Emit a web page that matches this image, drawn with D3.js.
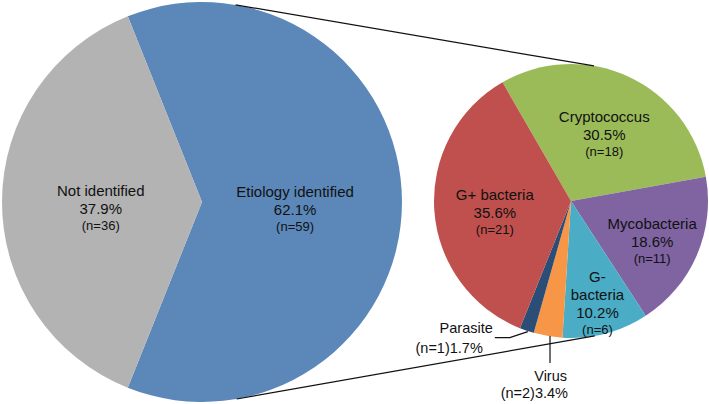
<!DOCTYPE html>
<html lang="en">
<head>
	<meta charset="UTF-8">
	<style>
	body { margin: 0; background: #fff; }
	svg text { font-family: "Liberation Sans", Arial, sans-serif; fill: #111; }
	</style>
	<script src="https://d3js.org/d3.v7.min.js"></script>
	<title>Etiology pie of pie</title>
</head>
<body>
	<div id="chart">
		<script>
			// Main pie: all cases
			const mainLabels = ["Etiology identified", "Not identified"];
			const mainCounts = [59, 36];
			const mainColors = ["#5b88b9", "#b3b3b3"];

			// Secondary pie: identified etiology breakdown
			const subLabels = ["Cryptococcus", "Mycobacteria", "G- bacteria", "Virus", "Parasite", "G+ bacteria"];
			const subCounts = [18, 11, 6, 2, 1, 21];
			const subColors = ["#9bbb59", "#8064a2", "#4bacc6", "#f79646", "#2c4d75", "#c0504d"];

			const width = 709, height = 404;
			const deg = Math.PI / 180;

			const svg = d3.select("#chart")
				.append("svg")
				.attr("width", width)
				.attr("height", height);

			const big = {cx: 202, cy: 202, r: 200};
			const small = {cx: 571, cy: 201, r: 137};

			function pct(v, arr) {
				return (v / d3.sum(arr) * 100).toFixed(1) + "%";
			}

			// ----- big pie -----
			const bigHalf = Math.PI * mainCounts[0] / d3.sum(mainCounts);
			const bigPie = d3.pie().sort(null)
				.startAngle(Math.PI / 2 - bigHalf)
				.endAngle(Math.PI / 2 - bigHalf + 2 * Math.PI);
			const bigArcs = bigPie(mainCounts);
			const bigArc = d3.arc().innerRadius(0).outerRadius(big.r);

			const gBig = svg.append("g").attr("transform", `translate(${big.cx},${big.cy})`);
			gBig.selectAll("path")
				.data(bigArcs)
				.join("path")
				.attr("d", bigArc)
				.attr("fill", (d, i) => mainColors[i]);

			// ----- small pie -----
			const subPie = d3.pie().sort(null)
				.startAngle(-30 * deg)
				.endAngle(330 * deg);
			const subArcs = subPie(subCounts);
			const subArc = d3.arc().innerRadius(0).outerRadius(small.r);

			const gSmall = svg.append("g").attr("transform", `translate(${small.cx},${small.cy})`);
			gSmall.selectAll("path")
				.data(subArcs)
				.join("path")
				.attr("d", subArc)
				.attr("fill", (d, i) => subColors[i]);

			// ----- connector lines (outer tangents of the two circles) -----
			const dx = small.cx - big.cx, dy = small.cy - big.cy;
			const dist = Math.hypot(dx, dy);
			const base = Math.atan2(dy, dx);
			const off = Math.acos((big.r - small.r) / dist);
			[base - off, base + off].forEach(a => {
				svg.append("line")
					.attr("x1", big.cx + big.r * Math.cos(a))
					.attr("y1", big.cy + big.r * Math.sin(a))
					.attr("x2", small.cx + small.r * Math.cos(a))
					.attr("y2", small.cy + small.r * Math.sin(a))
					.attr("stroke", "#111")
					.attr("stroke-width", 1.2);
			});

			// polar helper, angle clockwise from 12 o'clock
			function polar(c, a, rr) {
				return [c.cx + rr * Math.sin(a), c.cy - rr * Math.cos(a)];
			}
			function mid(d) { return (d.startAngle + d.endAngle) / 2; }

			// inside label: name lines, percent, (n=..)
			function blockLabel(g, x, y, nameLines, p, n) {
				const t = g.append("g").attr("transform", `translate(${x},${y})`);
				nameLines.forEach((s, k) => {
					t.append("text").attr("y", -18 * (nameLines.length - k))
						.attr("text-anchor", "middle").attr("font-size", 15).text(s);
				});
				t.append("text").attr("text-anchor", "middle").attr("font-size", 15).text(p);
				t.append("text").attr("y", 16).attr("text-anchor", "middle").attr("font-size", 13).text("(n=" + n + ")");
			}

			// big pie labels: radius fraction and angle nudge (degrees)
			const bigPlace = [{k: 0.47, da: 8}, {k: 0.51, da: -7}];
			bigArcs.forEach((d, i) => {
				const [x, y] = polar(big, mid(d) + bigPlace[i].da * deg, big.r * bigPlace[i].k);
				blockLabel(svg, x, y, [mainLabels[i]], pct(d.value, mainCounts), d.value);
			});

			// small pie labels
			const subPlace = {
				"Cryptococcus": {k: 0.51, da: 3.5, lines: ["Cryptococcus"]},
				"Mycobacteria": {k: 0.68, da: 6, lines: ["Mycobacteria"]},
				"G- bacteria": {k: 0.875, da: 2, lines: ["G-", "bacteria"]},
				"G+ bacteria": {k: 0.57, da: -8.6, lines: ["G+ bacteria"]}
			};
			subArcs.forEach((d, i) => {
				const p = subPlace[subLabels[i]];
				if (!p) return;
				const [x, y] = polar(small, mid(d) + p.da * deg, small.r * p.k);
				blockLabel(svg, x, y, p.lines, pct(d.value, subCounts), d.value);
			});

			// outside labels with leader lines
			const virus = subArcs[subLabels.indexOf("Virus")];
			const [vx, vy] = polar(small, mid(virus), small.r);
			svg.append("line")
				.attr("x1", vx + 2).attr("y1", vy)
				.attr("x2", vx + 2).attr("y2", vy + 27)
				.attr("stroke", "#111").attr("stroke-width", 1.2);
			svg.append("text").attr("x", vx + 19).attr("y", vy + 45)
				.attr("text-anchor", "end").attr("font-size", 14.5).text("Virus");
			svg.append("text").attr("x", vx + 20).attr("y", vy + 62)
				.attr("text-anchor", "end").attr("font-size", 14.5)
				.text("(n=" + virus.value + ")" + pct(virus.value, subCounts));

			const para = subArcs[subLabels.indexOf("Parasite")];
			const [px, py] = polar(small, mid(para), small.r);
			svg.append("polyline")
				.attr("points", [[px + 1, py + 1], [px - 17, py + 7], [px - 32, py + 7]].map(q => q.join(",")).join(" "))
				.attr("fill", "none").attr("stroke", "#111").attr("stroke-width", 1.2);
			svg.append("text").attr("x", px - 34).attr("y", py + 2)
				.attr("text-anchor", "end").attr("font-size", 14.5).text("Parasite");
			svg.append("text").attr("x", px - 44).attr("y", py + 22)
				.attr("text-anchor", "end").attr("font-size", 14.5)
				.text("(n=" + para.value + ")" + pct(para.value, subCounts));
		</script>
	</div>
</body>
</html>
